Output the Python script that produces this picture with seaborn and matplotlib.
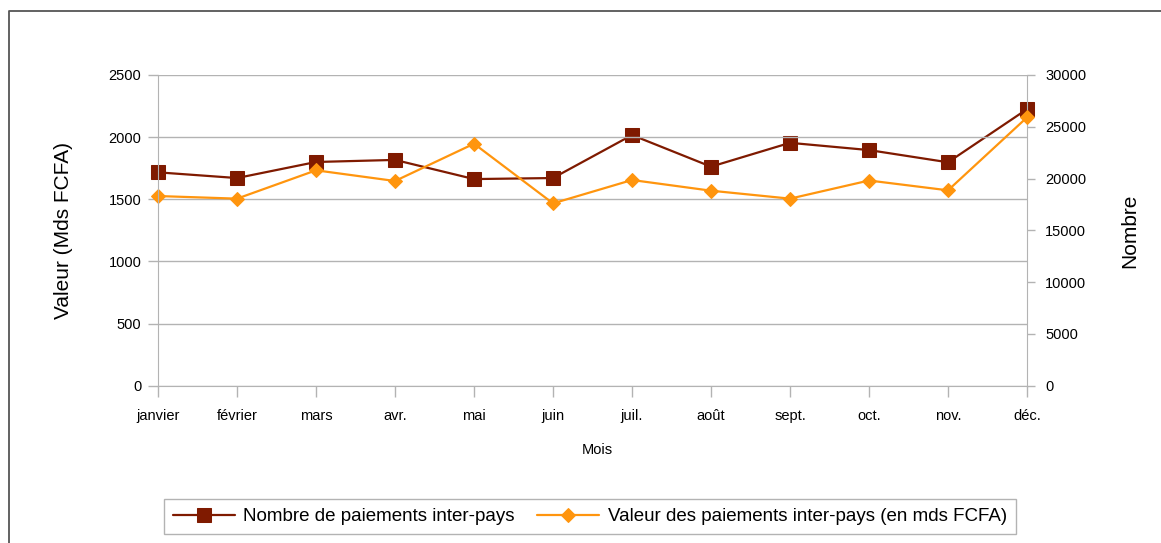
import matplotlib
matplotlib.use('Agg')
import matplotlib.pyplot as plt
import seaborn as sns
import pandas as pd
from matplotlib.lines import Line2D

# données
mois = ['janvier', 'février', 'mars', 'avr.', 'mai', 'juin',
        'juil.', 'août', 'sept.', 'oct.', 'nov.', 'déc.']
nombre = [20600, 20050, 21600, 21800, 19950, 20050,
          24200, 21150, 23450, 22750, 21570, 26700]
valeur = [1526, 1505, 1733, 1647, 1947, 1467,
          1655, 1569, 1505, 1651, 1572, 2159]
ticks_valeur = [0, 500, 1000, 1500, 2000, 2500]
ticks_nombre = [0, 5000, 10000, 15000, 20000, 25000, 30000]

df = pd.DataFrame({'mois': mois, 'nombre': nombre, 'valeur': valeur})

sns.set_style('white')
plt.rcParams['font.family'] = ['Liberation Sans', 'DejaVu Sans']
plt.rcParams['text.color'] = 'black'
plt.rcParams['axes.labelcolor'] = 'black'

gris = '#b3b3b3'
rouge = '#7f1a00'
orange = '#ff950e'

fig = plt.figure(figsize=(11.61, 5.43), dpi=100)
ax = fig.add_axes([0.1361, 0.2897, 0.7485, 0.5722])
ax2 = ax.twinx()

# axe de droite : nombre
sns.lineplot(data=df, x='mois', y='nombre', ax=ax2, color=rouge, marker='s',
             markersize=9.5, markeredgecolor=rouge, linewidth=1.6, sort=False,
             label='Nombre de paiements inter-pays', legend=False, clip_on=False)
# axe de gauche : valeur
sns.lineplot(data=df, x='mois', y='valeur', ax=ax, color=orange, marker='D',
             markersize=7, markeredgecolor=orange, linewidth=1.6, sort=False,
             label='Valeur des paiements inter-pays (en mds FCFA)', legend=False,
             clip_on=False)

ax.set_zorder(ax2.get_zorder() + 1)
ax.patch.set_visible(False)

ax.set_xlim(0, len(mois) - 1)
ax.set_ylim(0, 2500)
ax.set_yticks(ticks_valeur)
ax2.set_ylim(0, 30000)
ax2.set_yticks(ticks_nombre)

ax.grid(axis='y', color=gris, linewidth=1)
ax.grid(axis='x', visible=False)
ax2.grid(False)
ax.set_axisbelow(True)

for a in (ax, ax2):
    for s in a.spines.values():
        s.set_visible(False)
ax.spines['left'].set_visible(True)
ax.spines['bottom'].set_visible(True)
ax2.spines['right'].set_visible(True)
ax.spines['left'].set_color(gris)
ax.spines['bottom'].set_color(gris)
ax2.spines['right'].set_color(gris)

ax.tick_params(axis='y', direction='out', length=7, width=1, color=gris,
               pad=5, labelsize=10.5, left=True, labelcolor='black')
ax.tick_params(axis='x', direction='out', length=8, width=1, color=gris,
               pad=9, labelsize=10.5, bottom=True, labelcolor='black')
ax2.tick_params(axis='y', direction='out', length=6, width=1, color=gris,
                pad=7, labelsize=10.5, right=True, labelcolor='black')

ax.set_xlabel('Mois', fontsize=10.5)
ax.xaxis.set_label_coords(0.505, -0.186)
ax.set_ylabel('Valeur (Mds FCFA)', fontsize=15)
ax.yaxis.set_label_coords(-0.0975, 0.5)
ax2.set_ylabel('Nombre', fontsize=15)
ax2.yaxis.set_label_coords(1.107, 0.5)

h1 = ax2.get_lines()[0]
h2 = ax.get_lines()[0]
leg = fig.legend(handles=[h1, h2], labels=[h1.get_label(), h2.get_label()],
                 loc='center', bbox_to_anchor=(0.5082, 0.0488), ncol=2,
                 frameon=True, fancybox=False, edgecolor=gris, framealpha=1,
                 fontsize=13.5, handlelength=3.3, handletextpad=0.45,
                 columnspacing=1.2, borderpad=0.5)
leg.get_frame().set_linewidth(1)

# cadre extérieur
x0, y0 = 9 / 1161, 1 - 11 / 543
fig.add_artist(Line2D([x0, x0, 1.0], [0, y0, y0], transform=fig.transFigure,
                      color='#555555', linewidth=1.3))

fig.savefig('out.png', dpi=100)
